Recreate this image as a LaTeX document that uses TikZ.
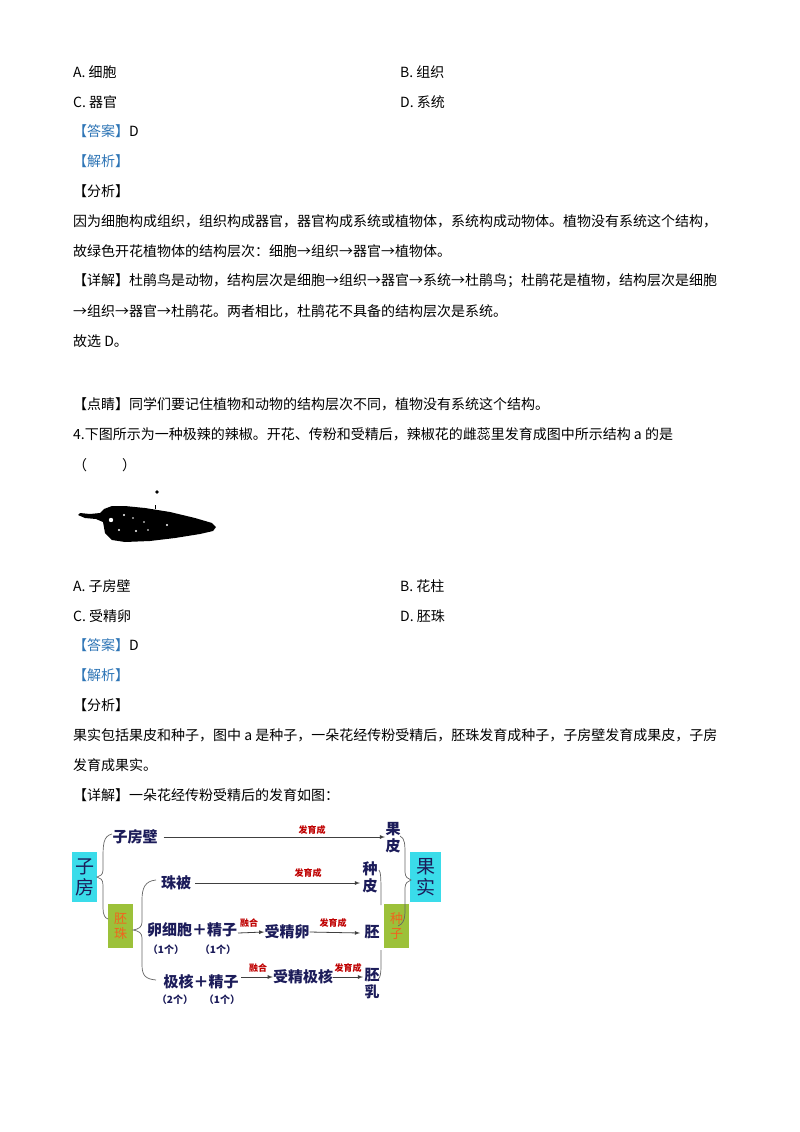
\documentclass[tikz,border=0pt]{standalone}
\usepackage{fontspec}
\setmainfont{Noto Sans CJK SC}
\begin{document}
\begin{tikzpicture}[x=1pt,y=-1pt,
  txt/.style={anchor=west,inner sep=0pt,font=\fontsize{14}{16}\selectfont},
  dg/.style={inner sep=0pt,text=navy,font=\bfseries\fontsize{15}{17}\selectfont},
  sm/.style={inner sep=0pt,text=navy,font=\bfseries\fontsize{10}{12}\selectfont},
  lab/.style={inner sep=0pt,text=red!75!black,font=\bfseries\fontsize{9}{10}\selectfont},
  arr/.style={draw=black!75,line width=0.8pt,-latex},
  brc/.style={draw=black!60,line width=0.7pt},
  cyanbox/.style={fill=cyanl,draw=none},
  olivebox/.style={fill=olivegr,draw=none}]
\definecolor{navy}{HTML}{1C1C5A}
\definecolor{cyanl}{HTML}{3ADCEA}
\definecolor{olivegr}{HTML}{9CC13A}
\definecolor{ansblue}{HTML}{2E75B6}
\definecolor{orangered}{HTML}{F0641E}
\useasboundingbox (0,0) rectangle (800,1132);
\fill[white] (0,0) rectangle (800,1132);
% text
\node[txt] (a1) at (73,72) {A. 细胞};
\node[txt] (b1) at (400,72) {B. 组织};
\node[txt] (c1) at (73,102) {C. 器官};
\node[txt] (d1) at (400,102) {D. 系统};
\node[txt] (ans1) at (73,131) {\textcolor{ansblue}{【答案】}D};
\node[txt] (jx1) at (73,161) {\textcolor{ansblue}{【解析】}};
\node[txt] (fx1) at (73,191) {【分析】};
\node[txt] (l1) at (73,221) {因为细胞构成组织，组织构成器官，器官构成系统或植物体，系统构成动物体。植物没有系统这个结构，};
\node[txt] (l2) at (73,251) {故绿色开花植物体的结构层次：细胞→组织→器官→植物体。};
\node[txt] (l3) at (73,281) {【详解】杜鹃鸟是动物，结构层次是细胞→组织→器官→系统→杜鹃鸟；杜鹃花是植物，结构层次是细胞};
\node[txt] (l4) at (73,311) {→组织→器官→杜鹃花。两者相比，杜鹃花不具备的结构层次是系统。};
\node[txt] (l5) at (73,341) {故选 D。};
\node[txt] (l6) at (73,404) {【点睛】同学们要记住植物和动物的结构层次不同，植物没有系统这个结构。};
\node[txt] (q4) at (73,434) {4.下图所示为一种极辣的辣椒。开花、传粉和受精后，辣椒花的雌蕊里发育成图中所示结构 a 的是};
\node[txt] (q4b) at (73,465) {（\hspace{2.5em}）};
% pepper
\fill[black] (157,492) circle (1.8);
\fill[black] (78,515) -- (80,513) -- (90,514) -- (100,513) -- (104,509) -- (112,506) -- (125,506) -- (145,508) -- (170,512) -- (195,518) -- (212,523) -- (216,527) -- (213,531) -- (200,534) -- (175,538) -- (150,541) -- (125,542) -- (112,540) -- (105,533) -- (103,522) -- (96,519) -- (85,518) -- cycle;
\fill[white] (111,520) circle (2.2) (124,515) circle (1.2) (133,518) circle (0.9) (144,522) circle (0.9) (167,525) circle (1.1) (119,530) circle (1.2) (136,531) circle (1.2) (148,530) circle (0.9);
\draw[black,line width=0.6pt] (155,505) -- (155,509);
% options
\node[txt] (a2) at (73,586) {A. 子房壁};
\node[txt] (b2) at (400,586) {B. 花柱};
\node[txt] (c2) at (73,616) {C. 受精卵};
\node[txt] (d2) at (400,616) {D. 胚珠};
\node[txt] (ans2) at (73,645) {\textcolor{ansblue}{【答案】}D};
\node[txt] (jx2) at (73,675) {\textcolor{ansblue}{【解析】}};
\node[txt] (fx2) at (73,705) {【分析】};
\node[txt] (m1) at (73,735) {果实包括果皮和种子，图中 a 是种子，一朵花经传粉受精后，胚珠发育成种子，子房壁发育成果皮，子房};
\node[txt] (m2) at (73,765) {发育成果实。};
\node[txt] (m3) at (73,795) {【详解】一朵花经传粉受精后的发育如图：};
% diagram boxes
\fill[cyanbox] (72,852) rectangle (97,902);
\node[dg,font=\fontsize{19}{21}\selectfont,align=center] (zf) at (84.5,877) {子\\房};
\fill[cyanbox] (410,852) rectangle (441,902);
\node[dg,font=\fontsize{19}{21}\selectfont,align=center] (gs) at (425.5,877) {果\\实};
\fill[olivebox] (108,904) rectangle (133,948);
\node[inner sep=0pt,text=orangered,font=\fontsize{13}{15}\selectfont,align=center] (pz) at (120.5,926) {胚\\珠};
\fill[olivebox] (384,904) rectangle (409,948);
\node[inner sep=0pt,text=orangered,font=\fontsize{13}{15}\selectfont,align=center] (zz) at (396.5,926) {种\\子};
% nodes
\node[dg] (zfb) at (135,837) {子房壁};
\node[dg,align=center] (gp) at (393,838) {果\\皮};
\node[dg] (zb) at (176,883) {珠被};
\node[dg,align=center] (zp) at (370,877) {种\\皮};
\node[dg] (lx) at (192,930) {卵细胞＋精子};
\node[sm] (n1) at (166,950) {（1个）};
\node[sm] (n2) at (218,950) {（1个）};
\node[dg] (sjl) at (287,932) {受精卵};
\node[dg] (pei) at (372,932) {胚};
\node[dg] (jh) at (201,982) {极核＋精子};
\node[sm] (n3) at (175,1000) {（2个）};
\node[sm] (n4) at (222,1000) {（1个）};
\node[dg] (sjjh) at (303,977) {受精极核};
\node[dg,align=center] (pr) at (372,984) {胚\\乳};
% arrows
\draw[arr] (zfb.east) ++(6,0) -- (385,837);
\node[lab] (f1) at (312,830) {发育成};
\draw[arr] (zb.east) ++(4,0) -- (360,883);
\node[lab] (f2) at (308,873) {发育成};
\draw[arr] (238,933) -- (sjl.west);
\node[lab] (r1) at (249,923) {融合};
\draw[arr] (sjl.east) -- (360,933);
\node[lab] (f3) at (333,923) {发育成};
\draw[arr] (241,977) -- (sjjh.west);
\node[lab] (r2) at (258,968) {融合};
\draw[arr] (sjjh.east) -- (363,977);
\node[lab] (f4) at (348,968) {发育成};
% braces
\draw[brc] (112,834) .. controls (103,836) and (103,845) .. (103,860) -- (103,870) .. controls (103,875) and (100,876) .. (97,877) .. controls (100,878) and (103,879) .. (103,885) -- (103,908) .. controls (103,915) and (105,918) .. (108,919);
\draw[brc] (156,880) .. controls (145,881) and (142,888) .. (142,900) -- (142,922) .. controls (142,927) and (139,929) .. (133,930) .. controls (139,931) and (142,933) .. (142,938) -- (142,965) .. controls (142,976) and (146,979) .. (156,980);
\draw[brc] (400,836) .. controls (405,838) and (405,845) .. (405,855) -- (405,872) .. controls (405,877) and (408,879) .. (411,880) .. controls (408,881) and (405,883) .. (405,888) -- (405,910) .. controls (405,920) and (403,924) .. (398,926);
\draw[brc] (379,870) .. controls (381,872) and (381,880) .. (381,900) -- (381,905);
\draw[brc] (381,950) -- (381,965) .. controls (381,975) and (380,978) .. (378,979);
\end{tikzpicture}
\end{document}
